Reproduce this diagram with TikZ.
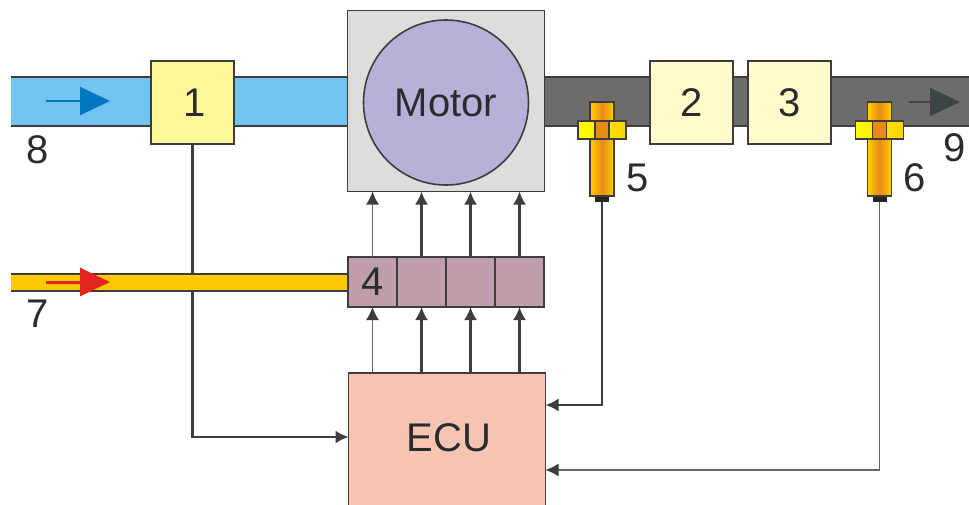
\documentclass[tikz,border=0pt]{standalone}
\usepackage{fontspec}
\setmainfont{Liberation Sans}
\usetikzlibrary{arrows.meta,positioning}
\definecolor{wirecol}{HTML}{3F3D3C}
\definecolor{txtcol}{HTML}{2B2B2B}
\definecolor{gold}{HTML}{FFD200}
\definecolor{amber}{HTML}{E98A17}

\begin{document}
\begin{tikzpicture}[
    x=1pt, y=-1pt,
    >={Latex[length=13pt,width=13pt,color=wirecol]},
    every node/.style={inner sep=0pt, outer sep=0pt, text=txtcol, font=\fontsize{40}{44}\selectfont},
    pipe/.style={minimum height=49pt, anchor=west},
    edge/.style={draw=wirecol, line width=1.6pt},
    box/.style={draw=wirecol, line width=1.6pt, minimum width=83pt, minimum height=83pt},
    cell/.style={draw=wirecol, line width=1.6pt, fill={rgb,255:red,190;green,157;blue,175}, minimum width=49pt, minimum height=50pt},
    body/.style={draw=wirecol, line width=1.4pt, left color=gold, right color=gold, middle color=amber, minimum width=24pt, anchor=north},
    nut/.style={draw=wirecol, line width=1.4pt, left color=yellow, right color=gold, minimum height=18pt},
    tip/.style={fill=wirecol!60!black, minimum width=14pt, minimum height=6pt, anchor=north},
    line/.style={->, draw=wirecol, line width=2.2pt},
    wire/.style={->, draw=wirecol, line width=2.1pt},
    thin line/.style={->, draw=wirecol!80, line width=1.3pt},
    flow/.style={-{Triangle[length=30pt,width=28pt]}}
]
\useasboundingbox (0,0) rectangle (969,504);

% Pipes
\node[pipe, fill={rgb,255:red,115;green,195;blue,240}, minimum width=337pt] (air) at (11,101.5) {};
\node[pipe, fill={rgb,255:red,109;green,108;blue,107}, minimum width=425pt] (exh) at (544,101.5) {};
\draw[edge] (air.north west) -- (air.north east);
\draw[edge] (air.south west) -- (air.south east);
\draw[edge] (exh.north west) -- (exh.north east);
\draw[edge] (exh.south west) -- (exh.south east);

% Boxes on the pipes
\node[box, fill={rgb,255:red,255;green,248;blue,153}] (box1) at (192.5,102.5) {\hspace*{5pt}1};
\node[box, fill={rgb,255:red,255;green,251;blue,204}] (box2) at (691.5,102.5) {2};
\node[box, fill={rgb,255:red,255;green,251;blue,204}] (box3) at (789.5,102.5) {3};

% Motor
\node[draw=wirecol, line width=1.6pt, fill={rgb,255:red,221;green,222;blue,220}, minimum width=197pt, minimum height=181pt] (motor) at (446,101) {};
\node[circle, draw=wirecol, line width=1.6pt, fill={rgb,255:red,184;green,176;blue,216}, minimum size=165pt] (rotor) at (446,102.5) {Motor};

% Actuator row and ECU
\node[cell] (act1) at (372.5,282) {4};
\node[cell, right=0pt of act1] (act2) {};
\node[cell, right=0pt of act2] (act3) {};
\node[cell, right=0pt of act3] (act4) {};
\node[draw=wirecol, line width=1.6pt, fill={rgb,255:red,246;green,196;blue,178}, minimum width=197pt, minimum height=140pt] (ecu) at (447,443) {};
\node at (449,438) (ecutext) {ECU};

% Sensors
\node[tip] (tip5) at (602,196) {};
\node[body, minimum height=94pt] (body5) at (602,102) {};
\node[nut, minimum width=48pt] (nut5) at (602,130) {};
\node[nut, minimum width=14pt, left color=amber, right color=amber] (core5) at (602,130) {};
\node[tip] (tip6) at (879.5,196) {};
\node[body, minimum height=94pt] (body6) at (879.5,102) {};
\node[nut, minimum width=48pt] (nut6) at (879.5,130) {};
\node[nut, minimum width=14pt, left color=amber, right color=amber] (core6) at (879.5,130) {};

% Signal lines
\coordinate (in1) at (ecu.west |- 0,437);
\coordinate (in5) at (ecu.east |- 0,405);
\coordinate (in6) at (ecu.east |- 0,470);
\draw[wire] (box1.south) |- (in1);
\draw[line] (tip5.south) |- (in5);
\draw[thin line] (tip6.south) |- (in6);

\draw[thin line] (ecu.north -| act1) -- (act1.south);
\draw[line] (ecu.north -| act2) -- (act2.south);
\draw[line] (ecu.north -| act3) -- (act3.south);
\draw[line] (ecu.north -| act4) -- (act4.south);
\draw[thin line] (act1.north) -- (motor.south -| act1);
\draw[line] (act2.north) -- (motor.south -| act2);
\draw[line] (act3.north) -- (motor.south -| act3);
\draw[line] (act4.north) -- (motor.south -| act4);

% Fuel pipe, over the line from box 1
\node[pipe, fill={rgb,255:red,255;green,200;blue,0}, minimum width=336pt, minimum height=17pt] (fuel) at (11,282.5) {};
\draw[edge] (fuel.north west) -- (fuel.north east);
\draw[edge] (fuel.south west) -- (fuel.south east);

% Flow arrows
\coordinate (a8) at (46,101);
\coordinate (b8) at (110,101);
\coordinate (a7) at (46,282);
\coordinate (b7) at (110,282);
\coordinate (a9) at (909,102);
\coordinate (b9) at (960,102);
\draw[flow, line width=2pt, draw={rgb,255:red,0;green,118;blue,192}, fill={rgb,255:red,0;green,118;blue,192}] (a8) -- (b8);
\draw[flow, line width=3pt, draw={rgb,255:red,226;green,38;blue,30}, fill={rgb,255:red,226;green,38;blue,30}] (a7) -- (b7);
\draw[flow, line width=2pt, draw={rgb,255:red,60;green,68;blue,72}, fill={rgb,255:red,60;green,68;blue,72}] (a9) -- (b9);

% Numbers
\node (n8) at (38,150) {8};
\node (n7) at (38,314) {7};
\node (n5) at (638,178) {5};
\node (n6) at (915,178) {6};
\node (n9) at (955,148) {9};

\end{tikzpicture}
\end{document}
